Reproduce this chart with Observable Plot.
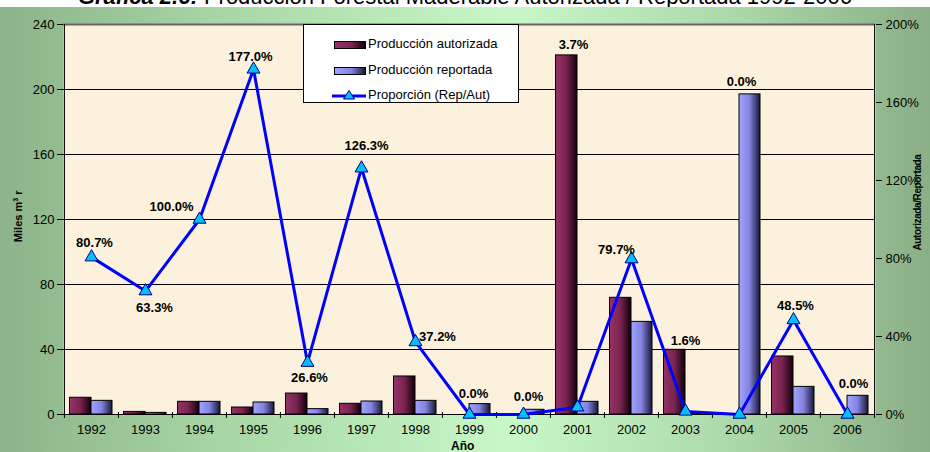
<!DOCTYPE html>
<html>
<head>
<meta charset="utf-8">
<script src="https://cdn.jsdelivr.net/npm/d3@7"></script>
<script src="https://cdn.jsdelivr.net/npm/@observablehq/plot@0.6"></script>
<style>
  html, body { margin: 0; padding: 0; background: #fff; }
  #wrap { position: relative; width: 930px; height: 452px; overflow: hidden; background: #fff;
          font-family: "Liberation Sans", Arial, sans-serif; color: #000; }
  #title { position: absolute; left: 0; width: 930px; top: -14.5px; text-align: center;
           font-size: 22px; line-height: 22px; white-space: nowrap; }
  #panel { position: absolute; left: 0; top: 7px; width: 930px; height: 445px;
           background: linear-gradient(to right, #8cb389 0%, #a9d8a6 25%, #c8f8c8 55%, #aad7a7 80%, #8aae86 100%); }
  #chart { position: absolute; left: 0; top: 0; }
  .ytitle { position: absolute; font-weight: bold; white-space: nowrap; transform-origin: center center; }
  #legend { position: absolute; left: 303px; top: 17px; width: 214px; height: 77px; background: #fff;
            border: 1px solid #000; font-size: 13px; }
  .lrow { position: absolute; left: 30px; height: 14px; }
  .sw { position: absolute; left: 0; top: 4px; width: 30px; height: 6px; border: 1px solid #000; }
  .lt { position: absolute; left: 34px; top: -1px; white-space: nowrap; line-height: 16px; }
</style>
</head>
<body>
<div id="wrap">
  <div id="title"><b><i>Gráfica 2.6:</i></b> Producción Forestal Maderable Autorizada / Reportada 1992-2006</div>
  <div id="panel">
    <div id="chart"></div>
    <div class="ytitle" style="left:-22px; top:203px; font-size:11px; transform: rotate(-90deg); width:80px; text-align:center;">Miles m<sup style="font-size:7px">3</sup> r</div>
    <div class="ytitle" style="left:857px; top:190px; font-size:10px; letter-spacing:-0.4px; transform: rotate(-90deg); width:120px; text-align:center;">Autorizada/Reportada</div>
    <div style="position:absolute; left:451px; top:432px; font-size:12px; font-weight:bold;">Año</div>
    <div id="legend">
      <div class="lrow" style="top:12px"><div class="sw" style="background: linear-gradient(to right, #963367, #7a2451 55%, #120008);"></div><div class="lt">Producción autorizada</div></div>
      <div class="lrow" style="top:38px"><div class="sw" style="background: linear-gradient(to right, #a2a2ff, #8282e0 55%, #181838);"></div><div class="lt">Producción reportada</div></div>
      <div class="lrow" style="top:63px">
        <svg width="34" height="14" style="position:absolute; left:-2px; top:0px;">
          <line x1="0" x2="34" y1="8" y2="8" stroke="#0000ff" stroke-width="3"/>
          <path d="M17,2.5 L22.5,11 L11.5,11 Z" fill="#00c0ff" stroke="#000080" stroke-width="1"/>
        </svg>
        <div class="lt">Proporción (Rep/Aut)</div>
      </div>
    </div>
  </div>
</div>
<script>
// ---- data ----
const years = ["1992","1993","1994","1995","1996","1997","1998","1999","2000","2001","2002","2003","2004","2005","2006"];
const autorizada = [10.3, 1.6, 7.8, 4.3, 12.9, 6.6, 23.4, 0, 0, 221, 71.8, 39.8, 0, 35.7, 0];
const reportada  = [8.4, 1.0, 7.8, 7.4, 3.3, 8.0, 8.4, 6.4, 2.9, 7.8, 57.0, 0.6, 197, 17.0, 11.5];
const proporcion = [80.7, 63.3, 100.0, 177.0, 26.6, 126.3, 37.2, 0.0, 0.0, 3.7, 79.7, 1.6, 0.0, 48.5, 0.0];
const leftTicks = [0, 40, 80, 120, 160, 200, 240];
const rightTickLabels = ["0%", "40%", "80%", "120%", "160%", "200%"];
const rightMax = 200;

// ---- layout / style ----
const W = 930, H = 445, mL = 63, mR = 55, mT = 17, mB = 38;
const bw = (W - mL - mR) / years.length;
const plotH = H - mT - mB;
const yMax = 240;
const toLeft = p => p * yMax / rightMax;
// label offsets (style), in px relative to each line point
const labelOffsets = [[3,-14],[9,17],[-28,-13],[-3,-13],[2,15],[5,-22],[22,-5],[4,-21],[5,-18],[-4,-362],[-15,-9],[0,-71],[2,-333],[2,-14],[6,-31]];

const data = years.map((y, i) => ({year: y, aut: autorizada[i], rep: reportada[i], pct: proporcion[i]}));
const rightTicks = rightTickLabels.map((_, i) => toLeft(i * 40));

const marks = [
  Plot.frame({fill: "#fbf1dc"}),
  Plot.ruleY(leftTicks.filter(t => t > 0 && t < yMax), {stroke: "#000", strokeWidth: 1}),
  Plot.ruleY([yMax], {stroke: "#666", strokeWidth: 2}),
  Plot.barY(data.filter(d => d.aut > 0), {x: "year", y: "aut", fill: "url(#gAut)", stroke: "#000", strokeWidth: 1, insetLeft: 5.5, insetRight: 27}),
  Plot.barY(data.filter(d => d.rep > 0), {x: "year", y: "rep", fill: "url(#gRep)", stroke: "#000", strokeWidth: 1, insetLeft: 27, insetRight: 6}),
  Plot.ruleX([years[0]], {dx: -bw / 2, stroke: "#000"}),
  Plot.ruleX([years[years.length - 1]], {dx: bw / 2, stroke: "#000"}),
  Plot.ruleY([0], {stroke: "#000"}),
  Plot.ruleX(years, {x: d => d, dx: -bw / 2, insetTop: plotH - 2, insetBottom: -4, stroke: "#000"}),
  Plot.ruleX([years[years.length - 1]], {dx: bw / 2, insetTop: plotH - 2, insetBottom: -4, stroke: "#000"}),
  Plot.axisY({ticks: leftTicks, tickSize: 6, tickPadding: 3, label: null, fontSize: 13, anchor: "left"}),
  Plot.axisY({ticks: rightTicks, tickFormat: (d, i) => rightTickLabels[i], tickSize: 6, tickPadding: 4, label: null, fontSize: 13, anchor: "right"}),
  Plot.axisX({tickSize: 0, tickPadding: 10, label: null, fontSize: 13}),
  Plot.line(data, {x: "year", y: d => toLeft(d.pct), stroke: "#0000ff", strokeWidth: 3}),
  Plot.dot(data, {x: "year", y: d => toLeft(d.pct), symbol: "triangle", r: 4.8, fill: "#00c0ff", stroke: "#000080", strokeWidth: 1}),
  ...data.map((d, i) => Plot.text([d], {x: "year", y: d => toLeft(d.pct), text: d => d.pct.toFixed(1) + "%",
      dx: labelOffsets[i][0], dy: labelOffsets[i][1], fontSize: 13, fontWeight: "bold", fill: "#000"}))
];

const svg = Plot.plot({
  width: W, height: H,
  marginLeft: mL, marginRight: mR, marginTop: mT, marginBottom: mB,
  style: {fontFamily: "'Liberation Sans', Arial, sans-serif", fontSize: "13px", background: "transparent", color: "#000", overflow: "visible"},
  x: {type: "band", domain: years, padding: 0, label: null, axis: null},
  y: {domain: [0, yMax], label: null, axis: null},
  marks
});

const defs = document.createElementNS("http://www.w3.org/2000/svg", "defs");
defs.innerHTML = `
  <linearGradient id="gAut" x1="0" x2="1" y1="0" y2="0">
    <stop offset="0" stop-color="#963367"/>
    <stop offset="0.5" stop-color="#7a2451"/>
    <stop offset="1" stop-color="#120008"/>
  </linearGradient>
  <linearGradient id="gRep" x1="0" x2="1" y1="0" y2="0">
    <stop offset="0" stop-color="#a2a2ff"/>
    <stop offset="0.5" stop-color="#8282e0"/>
    <stop offset="1" stop-color="#181838"/>
  </linearGradient>`;
svg.prepend(defs);
document.getElementById("chart").appendChild(svg);
</script>
</body>
</html>
